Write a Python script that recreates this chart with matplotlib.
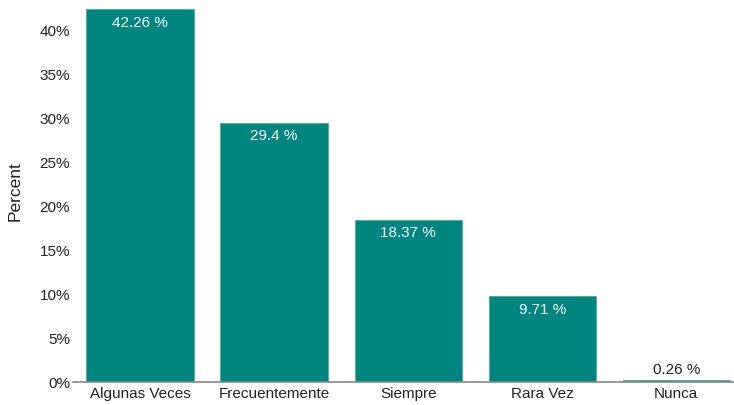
import matplotlib.pyplot as plt

plt.rcParams['font.family'] = ['Liberation Sans', 'DejaVu Sans']

# Response frequency shares
categories = ['Algunas Veces', 'Frecuentemente', 'Siempre', 'Rara Vez', 'Nunca']
percents = [42.26, 29.4, 18.37, 9.71, 0.26]
yticks = [0, 5, 10, 15, 20, 25, 30, 35, 40]

bar_color = '#00857f'

fig = plt.figure(figsize=(7.34, 4.06), dpi=100)
ax = fig.add_axes([73 / 734, 23 / 406, 661 / 734, 383 / 406])

x = range(len(categories))
bars = ax.bar(x, percents, width=0.8, color=bar_color, edgecolor='#4fa9a4', linewidth=0.6)

ax.set_xlim(-0.5, 4.43)
ax.set_ylim(0, 43.4)
ax.set_yticks(yticks)
ax.set_yticklabels([f'{t}%' for t in yticks], fontsize=11, color='#222222')
ax.set_xticks(list(x))
ax.set_xticklabels(categories, fontsize=11, color='#222222')
ax.tick_params(axis='y', length=0, pad=2)
ax.tick_params(axis='x', length=0, pad=3)

for s in ['top', 'right', 'left']:
    ax.spines[s].set_visible(False)
ax.spines['bottom'].set_color('#888888')
ax.spines['bottom'].set_linewidth(1.2)

ax.set_ylabel('Percent', fontsize=12.5, color='#222222', labelpad=12)

# value labels: inside the bar when tall enough, otherwise above it
for xi, v in zip(x, percents):
    if v > 3:
        ax.annotate(f'{v} %', (xi, v), xytext=(0, -4), textcoords='offset points',
                    ha='center', va='top', color='white', fontsize=11)
    else:
        ax.annotate(f'{v} %', (xi, v), xytext=(0, 3), textcoords='offset points',
                    ha='center', va='bottom', color='#222222', fontsize=11)

fig.savefig('out.png', dpi=100)
